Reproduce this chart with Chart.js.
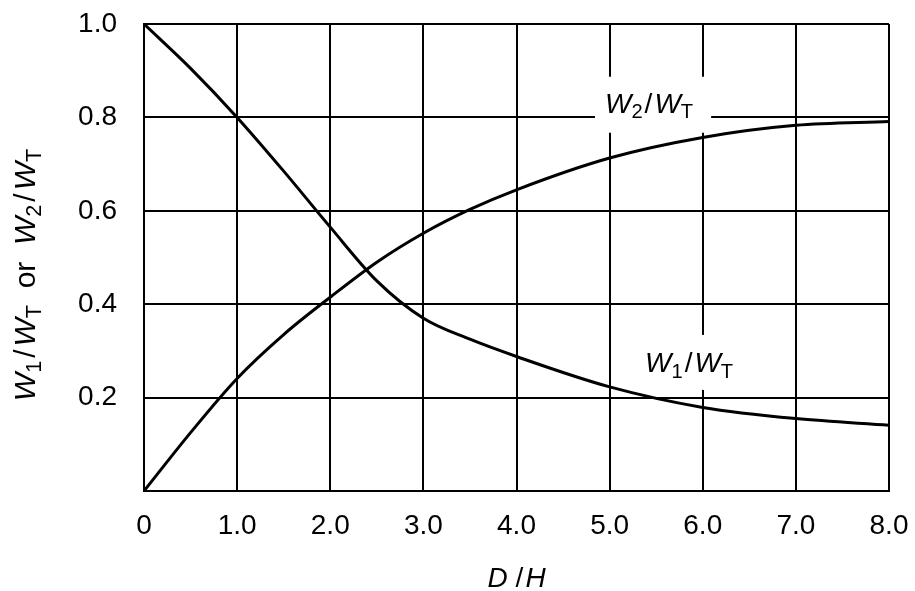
<!DOCTYPE html>
<html>
<head>
<meta charset="utf-8">
<script src="https://cdn.jsdelivr.net/npm/chart.js@4/dist/chart.umd.min.js"></script>
<style>
  body { margin: 0; background: #fff; }
  canvas { display: block; }
</style>
</head>
<body>
<canvas id="mychart" width="915" height="591"></canvas>
<script>
//DATA------------------------------------------------------------
const dH = [0, 0.5, 1.0, 1.5, 2.0, 2.5, 3.0, 3.5, 4.0, 5.0, 6.0, 7.0, 8.0];
const w1 = [1.0, 0.905, 0.80, 0.685, 0.565, 0.45, 0.37, 0.325, 0.288, 0.223, 0.179, 0.155, 0.141];
const w2 = [0, 0.125, 0.241, 0.335, 0.415, 0.49, 0.552, 0.603, 0.645, 0.713, 0.757, 0.783, 0.791];
const xTicks = ["0", "1.0", "2.0", "3.0", "4.0", "5.0", "6.0", "7.0", "8.0"];
const yTicks = ["", "0.2", "0.4", "0.6", "0.8", "1.0"];
//-----------------------------------------------------------------

const FONT = "'Liberation Sans', Arial, sans-serif";
const SUB = 0.72;

function pts(xs, ys) {
  return xs.map(function (x, i) { return { x: x, y: ys[i] }; });
}

// rich text: W italic, subscripts smaller and lower
function setFont(ctx, p, size) {
  ctx.font = (p.it ? "italic " : "") + (p.sub ? size * SUB : size) + "px " + FONT;
}
function richWidth(ctx, parts, size) {
  let w = 0;
  parts.forEach(function (p) {
    setFont(ctx, p, size);
    w += ctx.measureText(p.t).width + (p.gap || 0);
  });
  return w;
}
function richDraw(ctx, parts, size, x, y) {
  parts.forEach(function (p) {
    setFont(ctx, p, size);
    ctx.fillText(p.t, x, p.sub ? y + size * 0.2 : y);
    x += ctx.measureText(p.t).width + (p.gap || 0);
  });
}

function ratio(n, g) {
  return [{ t: "W", it: true }, { t: n, sub: true, gap: g }, { t: "/", gap: g }, { t: "W", it: true }, { t: "T", sub: true }];
}
const yTitle = ratio("1", 3).concat([{ t: "  or  " }], ratio("2", 3));
const xTitle = [{ t: "D", it: true, gap: 8 }, { t: "/", gap: 2 }, { t: "H", it: true }];

const labelsPlugin = {
  id: "labels",
  afterDatasetsDraw: function (chart) {
    const ctx = chart.ctx;
    const xs = chart.scales.x, ys = chart.scales.y;
    ctx.save();
    ctx.textBaseline = "alphabetic";
    ctx.textAlign = "left";

    // curve labels, white box over grid
    const lbls = [
      { parts: ratio("2", 2), x: 4.95, y: 0.81, box: [-10, 18, -36, 20] },
      { parts: ratio("1", 2), x: 5.38, y: 0.255, box: [-10, 13, -37, 18] }
    ];
    lbls.forEach(function (l) {
      const size = 28;
      const w = richWidth(ctx, l.parts, size);
      const lx = xs.getPixelForValue(l.x);
      const ly = ys.getPixelForValue(l.y);
      ctx.fillStyle = "#fff";
      ctx.fillRect(lx + l.box[0], ly + l.box[2], w + l.box[1] - l.box[0], l.box[3] - l.box[2]);
      ctx.fillStyle = "#000";
      richDraw(ctx, l.parts, size, lx, ly);
    });

    // x title
    const xw = richWidth(ctx, xTitle, 28);
    richDraw(ctx, xTitle, 28, xs.getPixelForValue(4.0) - xw / 2, 587);

    // y title rotated
    ctx.translate(35, 275);
    ctx.rotate(-Math.PI / 2);
    const yw = richWidth(ctx, yTitle, 30);
    richDraw(ctx, yTitle, 30, -yw / 2, 0);
    ctx.restore();
  }
};

function lineChart() {
  const data = {
    datasets: [
      { data: pts(dH, w1), borderColor: "#000", borderWidth: 3, pointRadius: 0, cubicInterpolationMode: "monotone", fill: false },
      { data: pts(dH, w2), borderColor: "#000", borderWidth: 3, pointRadius: 0, cubicInterpolationMode: "monotone", fill: false }
    ]
  };
  const config = {
    type: "line",
    data: data,
    plugins: [labelsPlugin],
    options: {
      responsive: false,
      animation: false,
      layout: { padding: { top: 24, right: 26, left: 0, bottom: 0 } },
      plugins: { legend: { display: false }, tooltip: { enabled: false } },
      scales: {
        x: {
          type: "linear", min: 0, max: 8,
          afterFit: function (s) { s.height = 100; s.paddingLeft = 0; s.paddingRight = 0; },
          grid: { color: "#000", lineWidth: 2, drawTicks: false },
          border: { color: "#000", width: 2 },
          ticks: {
            stepSize: 1, padding: 18, color: "#000",
            font: { family: FONT, size: 28 },
            callback: function (v, i) { return xTicks[i]; }
          }
        },
        y: {
          min: 0, max: 1.0,
          afterFit: function (s) { s.width = 144; s.paddingTop = 0; s.paddingBottom = 0; },
          grid: { color: "#000", lineWidth: 2, drawTicks: false },
          border: { color: "#000", width: 2 },
          ticks: {
            stepSize: 0.2, padding: 27, color: "#000",
            font: { family: FONT, size: 28 },
            callback: function (v, i) { return yTicks[i]; }
          }
        }
      }
    }
  };
  return new Chart(document.getElementById("mychart"), config);
}
const chart = lineChart();
</script>
</body>
</html>
